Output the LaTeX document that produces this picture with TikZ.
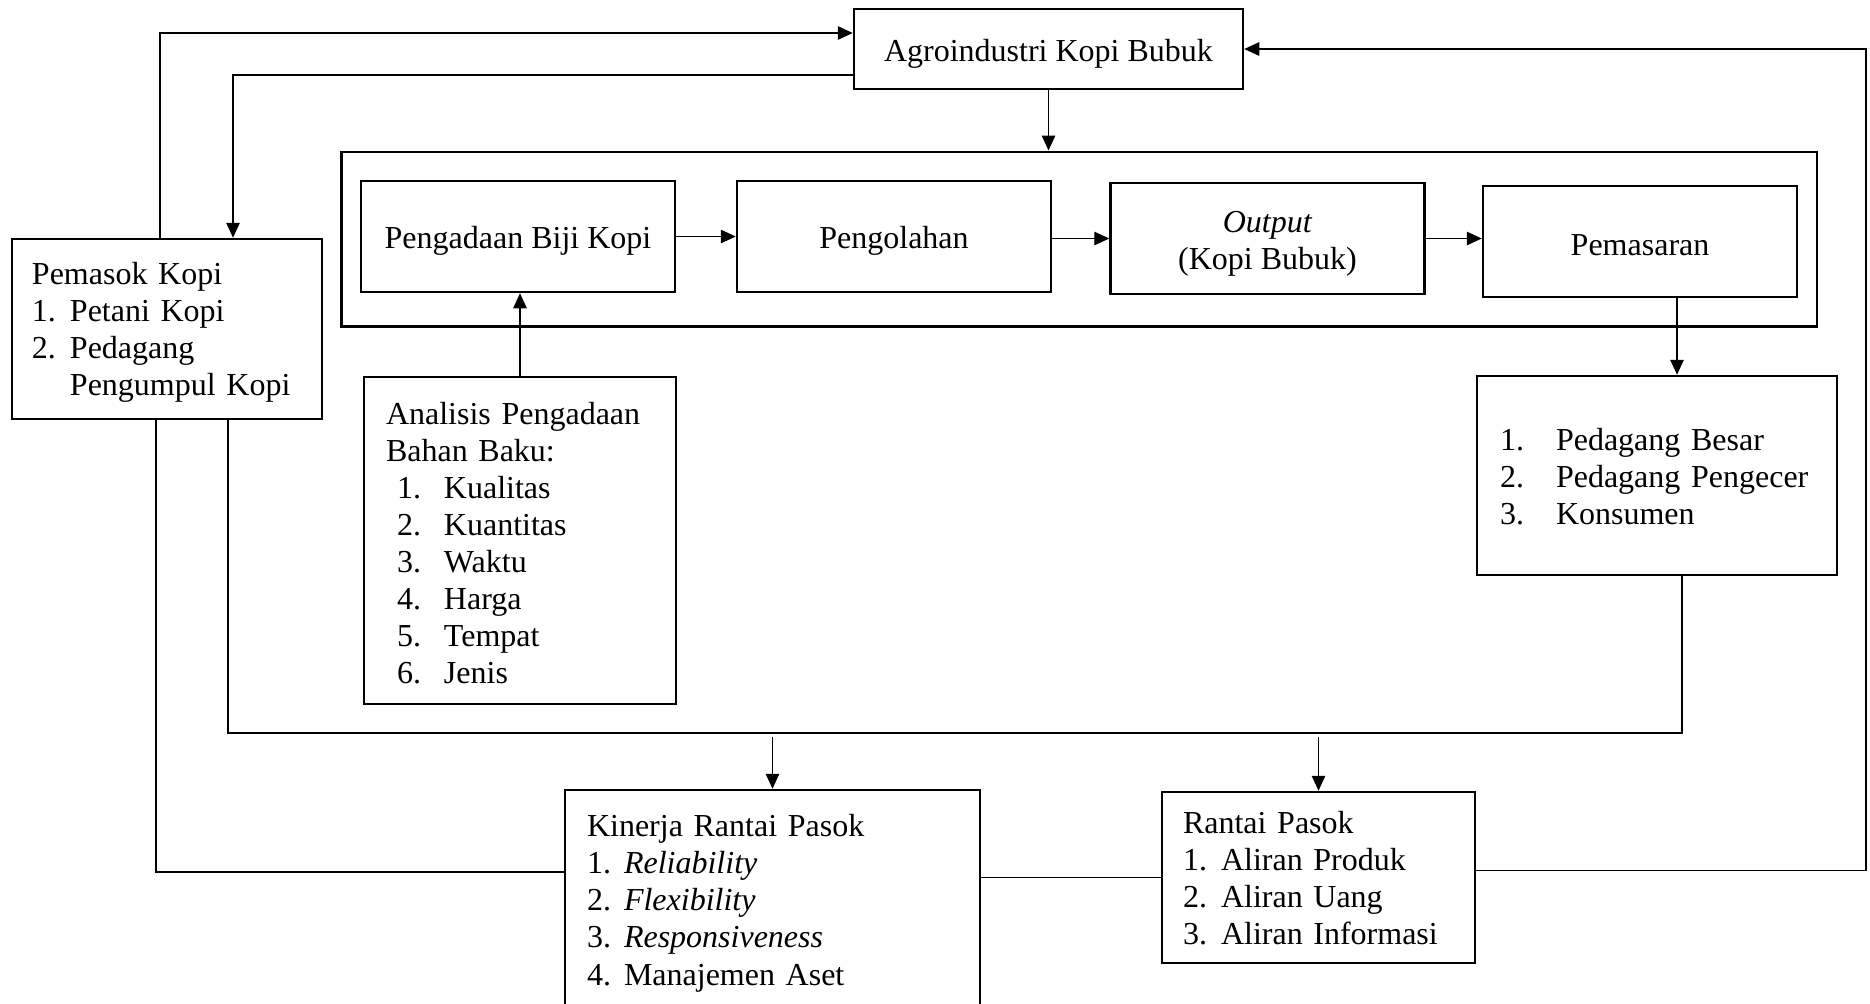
\documentclass[tikz,border=0pt]{standalone}
\usepackage{fontspec}
\setmainfont{Liberation Serif}
\usetikzlibrary{arrows.meta, positioning, calc, backgrounds, fit}

\begin{document}
\begin{tikzpicture}[
    x=0.4pt, y=-0.4pt,
    node distance=23pt,
    every node/.style={font=\fontsize{12.8}{14.8}\selectfont},
    box/.style={rectangle, draw, line width=1pt, inner sep=0pt, align=center, minimum width=125.6pt, minimum height=44.4pt},
    listbox/.style={rectangle, draw, line width=1pt, inner ysep=0pt, align=left},
    frame/.style={rectangle, draw, line width=1pt, inner xsep=7.4pt, inner ysep=11.2pt},
    arrow/.style={-{Triangle[length=6pt, width=5.4pt]}, line width=0.5pt},
    line/.style={line width=0.5pt}
]
\useasboundingbox (0,0) rectangle (1870,1003);

\node[box, minimum width=155.6pt, minimum height=32pt] (agro) at (1048.5,49) {\rule{0pt}{12.5pt}Agroindustri Kopi Bubuk};

\node[box] (pengadaan) at (518,236.5) {\rule{0pt}{12.5pt}Pengadaan Biji Kopi};
\node[box, right=23.8pt of pengadaan] (pengolahan) {\rule{0pt}{12.5pt}Pengolahan};
\node[box, right=22.8pt of pengolahan, yshift=-0.8pt] (output) {\rule{0pt}{12.5pt}\textit{Output}\\(Kopi Bubuk)};
\node[box, right=22.4pt of output, yshift=-1.2pt] (pemasaran) {\rule{0pt}{11.5pt}Pemasaran};

\begin{scope}[on background layer]
    \node[frame, fit=(pengadaan) (pemasaran)] (proses) {};
\end{scope}

\node[listbox, text width=108pt, inner xsep=8pt, minimum height=72pt] (pemasok) at (167,329)
    {\rule{0pt}{11.5pt}Pemasok Kopi\\
     \makebox[15.2pt][l]{1.}Petani Kopi\\
     \makebox[15.2pt][l]{2.}Pedagang\\
     \hspace*{15.2pt}Pengumpul Kopi};

\node[listbox, text width=107.2pt, inner xsep=8.8pt, minimum height=130.8pt] (analisis) at (520,540.5)
    {\rule{0pt}{10.7pt}Analisis Pengadaan\\
     Bahan Baku:\\
     \hspace*{4.4pt}\makebox[18.8pt][l]{1.}Kualitas\\
     \hspace*{4.4pt}\makebox[18.8pt][l]{2.}Kuantitas\\
     \hspace*{4.4pt}\makebox[18.8pt][l]{3.}Waktu\\
     \hspace*{4.4pt}\makebox[18.8pt][l]{4.}Harga\\
     \hspace*{4.4pt}\makebox[18.8pt][l]{5.}Tempat\\
     \hspace*{4.4pt}\makebox[18.8pt][l]{6.}Jenis};

\node[listbox, text width=125.6pt, inner xsep=9.2pt, minimum height=79.6pt] (pedagang) at (1657,475.5)
    {\rule{0pt}{9.7pt}\makebox[22.4pt][l]{1.}Pedagang Besar\\
     \makebox[22.4pt][l]{2.}Pedagang Pengecer\\
     \makebox[22.4pt][l]{3.}Konsumen};

\node[listbox, text width=148.4pt, inner xsep=8.8pt, minimum height=88pt] (kinerja) at (772.5,900)
    {\rule{0pt}{11.5pt}Kinerja Rantai Pasok\\
     \makebox[14.8pt][l]{1.}\textit{Reliability}\\
     \makebox[14.8pt][l]{2.}\textit{Flexibility}\\
     \makebox[14.8pt][l]{3.}\textit{Responsiveness}\\
     \makebox[14.8pt][l]{4.}Manajemen Aset};

\node[listbox, text width=108.4pt, inner xsep=8.4pt, minimum height=68.4pt] (rantai) at (1318.5,877.5)
    {\rule{0pt}{9.7pt}Rantai Pasok\\
     \makebox[15.2pt][l]{1.}Aliran Produk\\
     \makebox[15.2pt][l]{2.}Aliran Uang\\
     \makebox[15.2pt][l]{3.}Aliran Informasi};

% turning points of the lines
\coordinate (kanan) at (1866,0);
\coordinate (bus) at (0,733);
\coordinate (busbawah) at (0,737);
\coordinate (pemasokkiri) at ($(pemasok.south)+(-11,0)$);
\coordinate (pemasokkanan) at ($(pemasok.south)+(61,0)$);
\coordinate (pedagangbawah) at ($(pedagang.south)+(25,0)$);
\coordinate (turun) at ($(pemasaran.south)+(37,0)$);

\draw[arrow] ($(pemasok.north)+(-7,0)$) |- ($(agro.west)+(0,-16)$);
\draw[arrow] ($(agro.west)+(0,26)$) -| ($(pemasok.north)+(66,0)$);
\draw[arrow] (agro) -- (agro |- proses.north);

\draw[arrow] (pengadaan.east) -- (pengadaan.east -| pengolahan.west);
\draw[arrow] (output.west -| pengolahan.east) -- (output.west);
\draw[arrow] (output.east) -- (output.east -| pemasaran.west);
\draw[arrow] (analisis.north) -- (analisis.north |- pengadaan.south);
\draw[arrow] (turun) -- (turun |- pedagang.north);

\draw[line] (pedagangbawah) |- (pemasokkanan |- bus) -- (pemasokkanan);
\draw[arrow] (kinerja.north |- busbawah) -- (kinerja.north);
\draw[arrow] (rantai.north |- busbawah) -- (rantai.north);

\draw[line] (pemasokkiri) |- ($(kinerja.west)+(0,-28)$);
\draw[line] (kinerja.east |- rantai.west) -- (rantai.west);
\draw[arrow] ($(rantai.east)+(0,-7)$) -| (kanan |- agro.east) -- (agro.east);

\end{tikzpicture}
\end{document}
